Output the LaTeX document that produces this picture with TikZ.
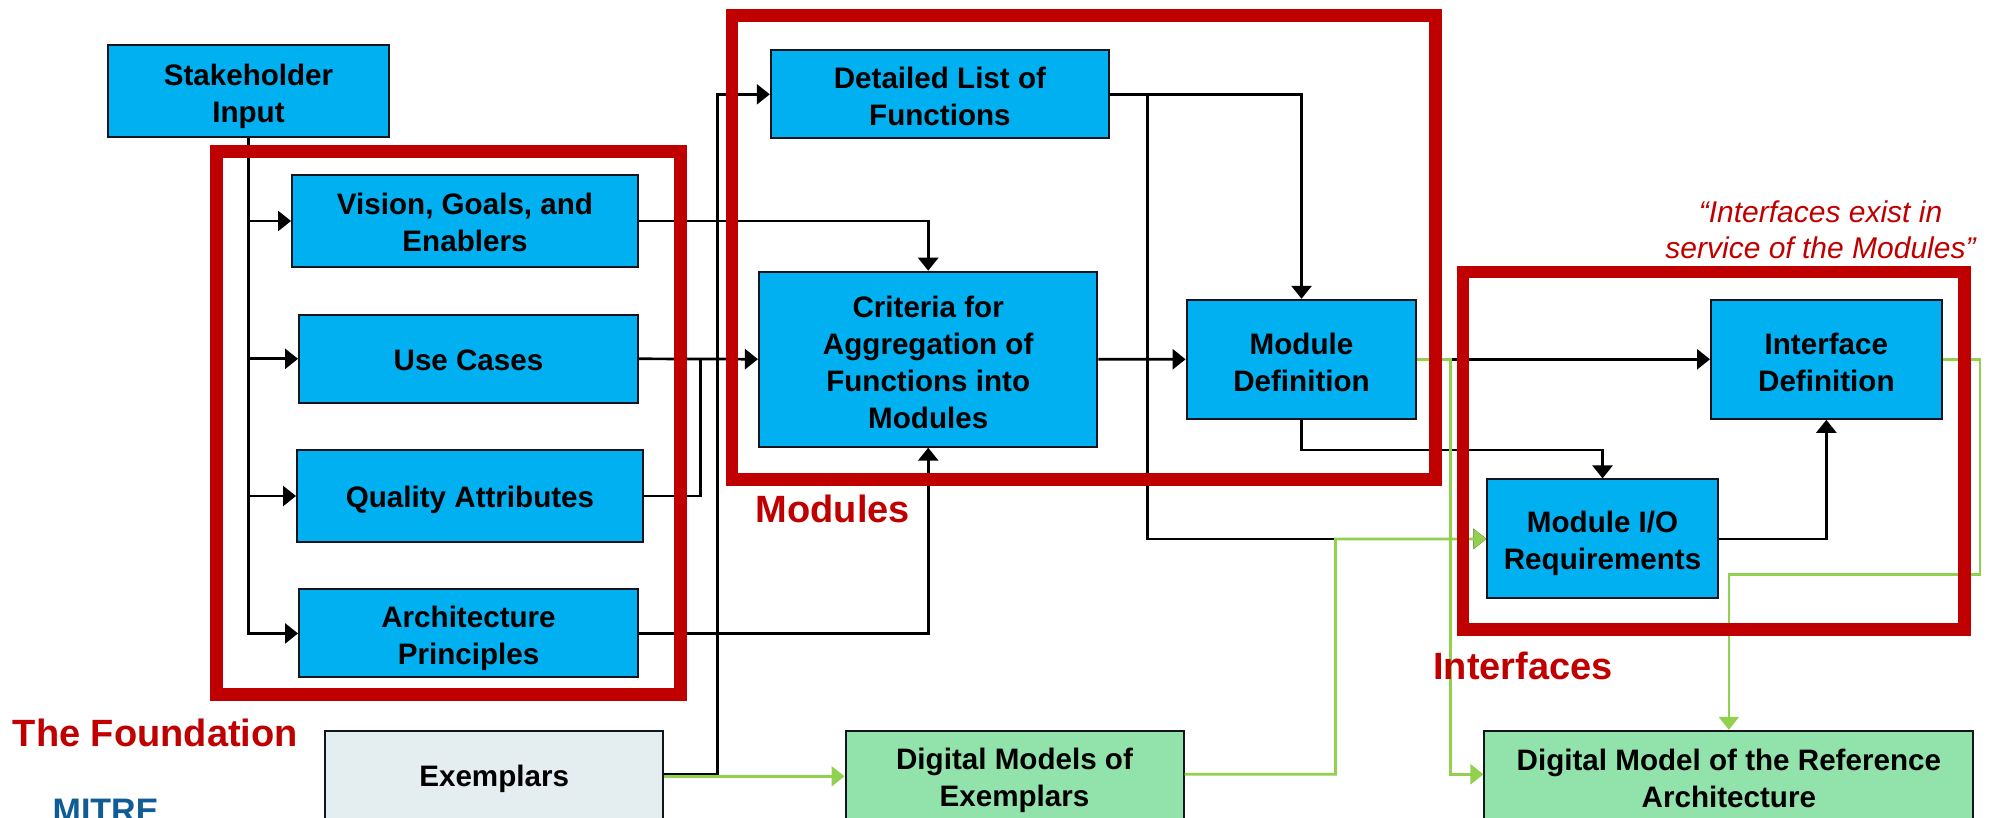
\documentclass[tikz,border=0pt]{standalone}
\usepackage{fontspec}
\setmainfont{Liberation Sans}
\usetikzlibrary{arrows.meta}
\definecolor{boxblue}{HTML}{00B0F0}
\definecolor{boxgreen}{HTML}{92E2AC}
\definecolor{boxgrey}{HTML}{E4EDEF}
\definecolor{framered}{HTML}{C00000}
\definecolor{linegreen}{HTML}{92D050}
\definecolor{logoblue}{HTML}{0F5C96}
\definecolor{edgedark}{HTML}{14141E}
% pushes a box's text down by #1 without moving the box
\newcommand{\textdown}[1]{\rule{0pt}{\dimexpr 22pt+2\dimexpr #1pt\relax\relax}}
\tikzset{
  basebox/.style={draw=edgedark,line width=2pt,inner sep=0pt,align=center,text=black,
    font=\bfseries\fontsize{29.6}{37}\selectfont},
  bluebox/.style={basebox,fill=boxblue},
  greenbox/.style={basebox,fill=boxgreen},
  greybox/.style={basebox,fill=boxgrey},
  blk/.style={draw=black,line width=2.7pt},
  blkarrow/.style={blk,-{Triangle[length=13pt,width=20pt]}},
  grn/.style={draw=linegreen,line width=2.7pt},
  grnarrow/.style={grn,-{Triangle[length=13pt,width=20pt]}},
  frame/.style={draw=framered,inner sep=0pt},
  biglabel/.style={anchor=base west,inner sep=0pt,text=framered,font=\bfseries\fontsize{38}{44}\selectfont},
}
\begin{document}
\begin{tikzpicture}[x=1pt,y=-1pt]
\useasboundingbox (0,0) rectangle (1991,817);
\clip (0,0) rectangle (1991,817);
% boxes
\node[bluebox,minimum width=281pt,minimum height=92pt] (stake) at (248.5,91.4) {\textdown{5}Stakeholder\\Input};
\node[bluebox,minimum width=346pt,minimum height=92pt] (vision) at (465,221) {\textdown{1.3}Vision, Goals, and\\Enablers};
\node[bluebox,minimum width=339pt,minimum height=87.5pt] (use) at (468.5,358.8) {\textdown{1.3}Use Cases};
\node[bluebox,minimum width=346pt,minimum height=92pt] (qual) at (470,496) {\textdown{4}Quality Attributes};
\node[bluebox,minimum width=339pt,minimum height=88pt] (arch) at (468.5,633.4) {\textdown{5}Architecture\\Principles};
\node[bluebox,minimum width=338.2pt,minimum height=88pt] (det) at (939.9,94.3) {\textdown{2}Detailed List of\\Functions};
\node[bluebox,minimum width=338.5pt,minimum height=175pt] (crit) at (928.2,359.2) {\textdown{3}Criteria for\\Aggregation of\\Functions into\\Modules};
\node[bluebox,minimum width=229.8pt,minimum height=119pt] (modef) at (1301.5,359.3) {\textdown{2.5}Module\\Definition};
\node[bluebox,minimum width=230.7pt,minimum height=119pt] (ifd) at (1826.35,359.3) {\textdown{2.5}Interface\\Definition};
\node[bluebox,minimum width=230.5pt,minimum height=119pt] (io) at (1602.55,538.9) {\textdown{4}Module I/O\\Requirements};
\node[greybox,minimum width=337.5pt,minimum height=88pt] (ex) at (494.2,774.7) {\textdown{4}Exemplars};
\node[greenbox,minimum width=338pt,minimum height=89pt] (dm) at (1014.5,775.3) {\textdown{5}Digital Models of\\Exemplars};
\node[greenbox,minimum width=488.9pt,minimum height=89pt] (dmra) at (1728.85,775.3) {\textdown{2.5}Digital Model of the Reference\\Architecture};
% junctions
\coordinate (jq) at (700.7,359);
\coordinate (jx) at (717.3,774);
\coordinate (jd) at (1147.3,94.3);
\coordinate (jg) at (1450.7,359.3);
\coordinate (jdm) at (1335.5,539);
\coordinate (jr1) at (1980,359.3);
\coordinate (jr2) at (1980,574.5);
% black connectors
\draw[blkarrow] (stake.south) |- (vision.west);
\draw[blkarrow] (stake.south) |- (use.west);
\draw[blkarrow] (stake.south) |- (qual.west);
\draw[blkarrow] (stake.south) |- (arch.west);
\draw[blkarrow] (vision.east) -| (crit.north);
\draw[blkarrow] (use.east) -- (crit.west);
\draw[blk] (qual.east) -| (jq);
\draw[blkarrow] (arch.east) -| (crit.south);
\draw[blkarrow] (ex.east |- jx) -- (jx) |- (det.west);
\draw[blkarrow] (det.east) -| (modef.north);
\draw[blkarrow] (jd) |- (io.west);
\draw[blkarrow] (crit.east) -- (modef.west);
\draw[blkarrow] (modef.east) -- (ifd.west);
\draw[blkarrow] (modef.south) -- ++(0,30.2) -| (io.north);
\draw[blkarrow] (io.east) -| (ifd.south);
% green connectors
\draw[grnarrow] (ex.east |- 0,776.3) -- (dm.west |- 0,776.3);
\draw[grnarrow] (dm.east |- 0,774.3) -| (jdm) -- (io.west);
\draw[grnarrow] (modef.east) -- (jg) |- (dmra.west |- 0,774.3);
\draw[grnarrow] (ifd.east) -- (jr1) -- (jr2) -| (dmra.north);
% frames
\node[frame,line width=13pt,minimum width=464pt,minimum height=542.7pt] (foundation) at (448.5,422.85) {};
\node[frame,line width=12.7pt,minimum width=703.3pt,minimum height=463.7pt] (modules) at (1083.65,247.45) {};
\node[frame,line width=12.5pt,minimum width=501.7pt,minimum height=357.8pt] (interfaces) at (1713.65,450.8) {};
% labels
\node[biglabel] (lf) at (12.7,746.7) {The Foundation};
\node[biglabel] (lm) at (755.5,522.7) {Modules};
\node[biglabel] (li) at (1433,679) {Interfaces};
\node[inner sep=0pt,align=center,text=framered,font=\itshape\fontsize{30}{36.5}\selectfont] (quote) at (1820.5,230) {“Interfaces exist in\\service of the Modules”};
\node[anchor=base west,inner sep=0pt,text=logoblue,font=\bfseries\fontsize{34}{34}\selectfont] (logo) at (52.5,822) {MITRE};
\end{tikzpicture}
\end{document}
